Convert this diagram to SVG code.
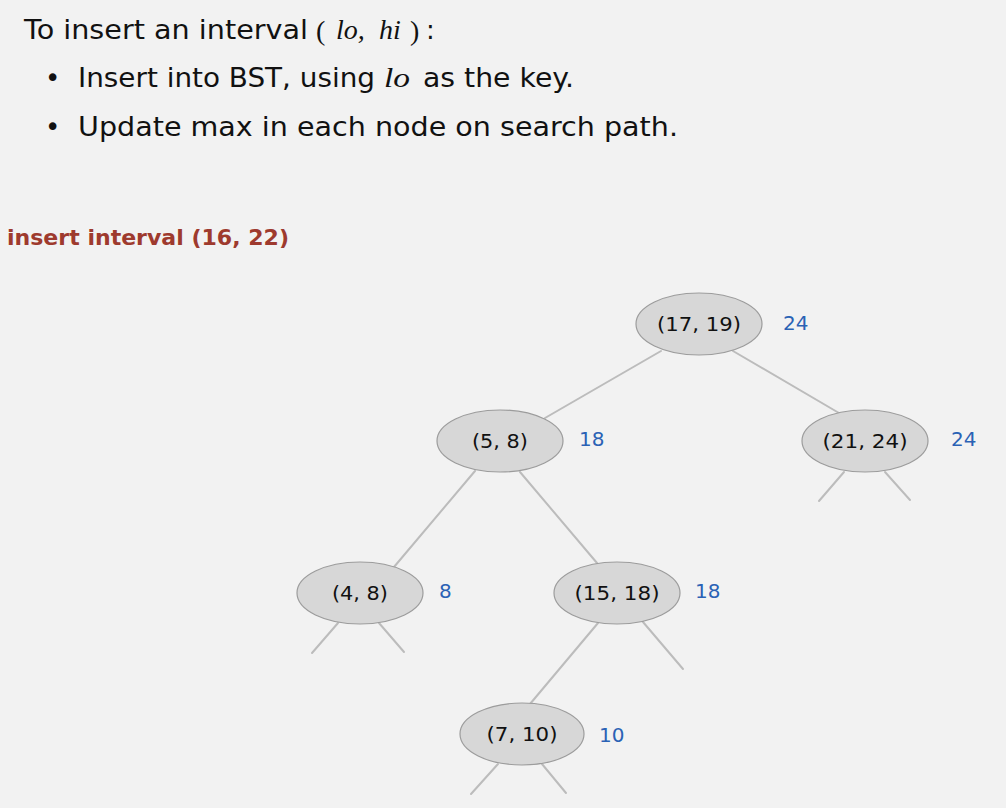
<svg xmlns="http://www.w3.org/2000/svg" width="1006" height="808" viewBox="0 0 1006 808">
<style>
.hdr{font-family:"DejaVu Sans","Liberation Sans",sans-serif;font-size:26px;fill:#111}
.it{font-family:"Liberation Serif","DejaVu Serif",serif;font-style:italic;font-size:28px;fill:#111}
.rm{font-family:"Liberation Serif","DejaVu Serif",serif;font-size:28px;fill:#111}
.ttl{font-family:"DejaVu Sans","Liberation Sans",sans-serif;font-weight:bold;font-size:21px;fill:#9e3a2e}
.node ellipse{fill:#d7d7d7;stroke:#9c9c9c;stroke-width:1.2}
.lbl{font-family:"DejaVu Sans","Liberation Sans",sans-serif;font-size:20px;fill:#111;text-anchor:middle}
.max{font-family:"DejaVu Sans","Liberation Sans",sans-serif;font-size:20px;fill:#2b62b5}
#edges line{stroke:#bcbcbc;stroke-width:2;stroke-linecap:round}
</style>
<rect width="1006" height="808" fill="#f2f2f2"/>
<g id="header">
<text class="hdr" x="24" y="39" textLength="284" lengthAdjust="spacingAndGlyphs">To insert an interval</text>
<text class="rm" x="316" y="40">(</text>
<text class="it" x="336" y="39">lo,</text>
<text class="it" x="379" y="39">hi</text>
<text class="rm" x="410" y="40">)</text>
<text class="hdr" x="426" y="39">:</text>
<text class="hdr" x="45" y="87">•</text>
<text class="hdr" x="78" y="87" textLength="297" lengthAdjust="spacingAndGlyphs">Insert into BST, using</text>
<text class="it" x="384" y="87" textLength="26" lengthAdjust="spacingAndGlyphs">lo</text>
<text class="hdr" x="423" y="87" textLength="151" lengthAdjust="spacingAndGlyphs">as the key.</text>
<text class="hdr" x="45" y="136">•</text>
<text class="hdr" x="78" y="136" textLength="600" lengthAdjust="spacingAndGlyphs">Update max in each node on search path.</text>
</g>
<text id="title" class="ttl" x="7" y="245" textLength="282" lengthAdjust="spacingAndGlyphs">insert interval (16, 22)</text>
<g id="edges">
<line x1="661" y1="351" x2="545" y2="418"/>
<line x1="733" y1="351" x2="839" y2="413"/>
<line x1="475" y1="471" x2="394" y2="567"/>
<line x1="520" y1="472" x2="597" y2="563"/>
<line x1="844" y1="472" x2="819" y2="501"/>
<line x1="885" y1="472" x2="910" y2="500"/>
<line x1="338" y1="623" x2="312" y2="653"/>
<line x1="379" y1="623" x2="404" y2="652"/>
<line x1="598" y1="623" x2="530" y2="704"/>
<line x1="643" y1="622" x2="683" y2="669"/>
<line x1="498" y1="764" x2="471" y2="794"/>
<line x1="542" y1="764" x2="566" y2="793"/>
</g>
<g id="n1719" class="node">
<ellipse cx="699" cy="324" rx="63" ry="31"/>
<text class="lbl" x="699" y="331" textLength="84" lengthAdjust="spacingAndGlyphs">(17, 19)</text>
<text class="max" x="783" y="330">24</text>
</g>
<g id="n58" class="node">
<ellipse cx="500" cy="441" rx="63" ry="31"/>
<text class="lbl" x="500" y="448" textLength="56" lengthAdjust="spacingAndGlyphs">(5, 8)</text>
<text class="max" x="579" y="446">18</text>
</g>
<g id="n2124" class="node">
<ellipse cx="865" cy="441" rx="63" ry="31"/>
<text class="lbl" x="865" y="448" textLength="85" lengthAdjust="spacingAndGlyphs">(21, 24)</text>
<text class="max" x="951" y="446">24</text>
</g>
<g id="n48" class="node">
<ellipse cx="360" cy="593" rx="63" ry="31"/>
<text class="lbl" x="360" y="600" textLength="56" lengthAdjust="spacingAndGlyphs">(4, 8)</text>
<text class="max" x="439" y="598">8</text>
</g>
<g id="n1518" class="node">
<ellipse cx="617" cy="593" rx="63" ry="31"/>
<text class="lbl" x="617" y="600" textLength="85" lengthAdjust="spacingAndGlyphs">(15, 18)</text>
<text class="max" x="695" y="598">18</text>
</g>
<g id="n710" class="node">
<ellipse cx="522" cy="734" rx="62" ry="31"/>
<text class="lbl" x="522" y="741" textLength="71" lengthAdjust="spacingAndGlyphs">(7, 10)</text>
<text class="max" x="599" y="742">10</text>
</g>
</svg>
